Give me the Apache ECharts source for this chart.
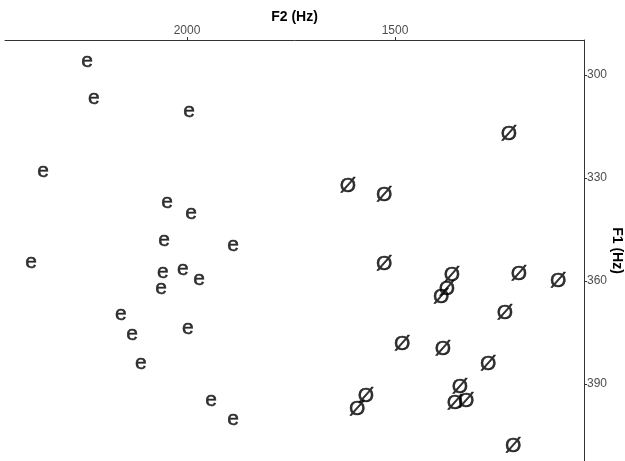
<!DOCTYPE html>
<html>
<head>
<meta charset="utf-8">
<script src="https://cdn.jsdelivr.net/npm/echarts@6/dist/echarts.min.js"></script>
<style>html,body{margin:0;padding:0;background:#fff}#c{width:625px;height:461px}</style>
</head>
<body>
<div id="c"></div>
<script>
// F2 (Hz) and F1 (Hz) values for vowel /e/
const eF2 = [2240, 2224, 1995, 2346, 2048, 1990, 2055, 1889, 2375, 2058, 2010, 1971, 2062, 2159, 2132, 1998, 2111, 1942, 1889];
const eF1 = [295.9, 306.7, 310.5, 328.0, 337.0, 340.2, 348.1, 349.5, 354.5, 357.4, 356.5, 359.4, 362.0, 369.6, 375.4, 373.7, 383.9, 394.7, 400.2];
// F2 (Hz) and F1 (Hz) values for vowel /ø/
const oF2 = [1226, 1613, 1526, 1526, 1363, 1202, 1108, 1375, 1389, 1236, 1483, 1385, 1276, 1344, 1329, 1356, 1570, 1591, 1216];
const oF1 = [317.2, 332.3, 335.0, 355.0, 358.3, 358.0, 360.0, 362.3, 364.7, 369.5, 378.4, 379.8, 384.2, 390.9, 395.0, 395.5, 393.5, 397.3, 408.1];
const f2Ticks = [1500, 2000];
const f1Ticks = [300, 330, 360, 390];

const chart = echarts.init(document.getElementById('c'), null, {renderer: 'canvas'});
const font = '"Liberation Sans", Arial, sans-serif';
function mk(f2, f1) { return f2.map((v, i) => [v, f1[i]]); }
function textSeries(name, data, ch) {
  return {
    name: name, type: 'scatter', data: data,
    symbol: 'circle', symbolSize: 1,
    itemStyle: {color: 'rgba(0,0,0,0)'},
    silent: true,
    label: {
      show: true, position: 'inside', formatter: ch,
      fontFamily: font, fontSize: 21, color: '#000',
      textBorderColor: '#000', textBorderWidth: 0.5,
      align: 'center', verticalAlign: 'middle', offset: [0, 1]
    },
    labelLayout: {hideOverlap: false}
  };
}
chart.setOption({
  animation: false,
  backgroundColor: '#fff',
  grid: {left: 5, right: 41, top: 40, bottom: 0, containLabel: false, outerBoundsMode: 'none'},
  xAxis: {
    type: 'value', position: 'top', inverse: true,
    min: 1045.7, max: 2437.5,
    name: 'F2 (Hz)', nameLocation: 'middle', nameGap: 16, nameMoveOverlap: false,
    nameTextStyle: {fontFamily: font, fontSize: 14, fontWeight: 'bold', color: '#000'},
    axisLine: {show: true, lineStyle: {color: '#333', width: 1}},
    axisTick: {show: true, length: 3, customValues: f2Ticks, lineStyle: {color: '#333'}},
    axisLabel: {customValues: f2Ticks, formatter: v => String(v), fontFamily: font, fontSize: 12, color: '#4d4d4d', margin: 3},
    splitLine: {show: false}
  },
  yAxis: {
    type: 'value', position: 'right', inverse: true,
    min: 289.8, max: 412.4,
    name: 'F1 (Hz)', nameLocation: 'middle', nameGap: 26, nameRotate: -90, nameMoveOverlap: false,
    nameTextStyle: {fontFamily: font, fontSize: 14, fontWeight: 'bold', color: '#000'},
    axisLine: {show: true, lineStyle: {color: '#333', width: 1}},
    axisTick: {show: true, length: 3, customValues: f1Ticks, lineStyle: {color: '#333'}},
    axisLabel: {customValues: f1Ticks, formatter: v => String(v), fontFamily: font, fontSize: 12, color: '#4d4d4d', margin: 3},
    splitLine: {show: false}
  },
  series: [
    textSeries('e', mk(eF2, eF1), 'e'),
    textSeries('ø', mk(oF2, oF1), 'Ø')
  ]
});
</script>
</body>
</html>
